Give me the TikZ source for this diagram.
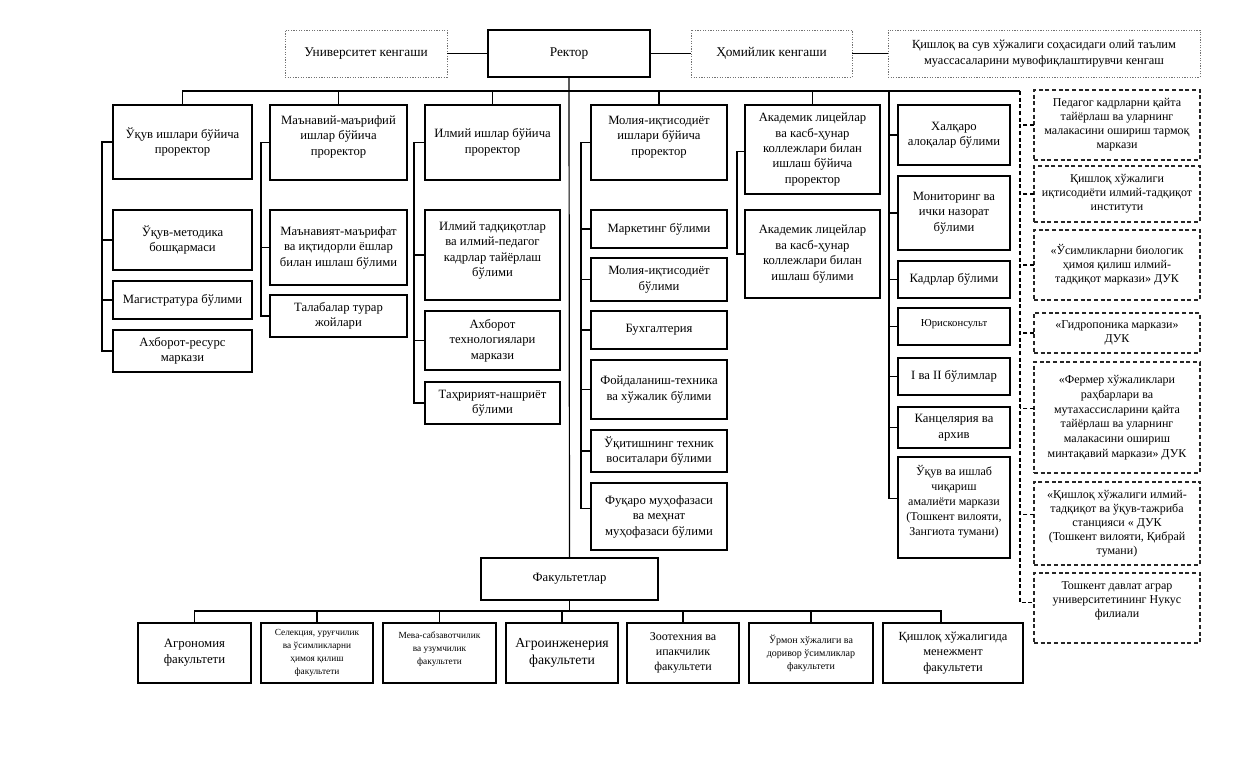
\documentclass[tikz,border=0pt]{standalone}
\usepackage{fontspec}
\setmainfont{Liberation Serif}
\newcommand\fA{\fontsize{9.5}{11.6}\selectfont}
\newcommand\fR{\fontsize{9}{10.5}\selectfont}
\newcommand\fS{\fontsize{7}{9.6}\selectfont}
\newcommand\mybox[7][]{\node[box,minimum width={(#4-#2)*0.75pt},minimum height={(#5-#3)*0.75pt},#1] (#6) at ({(#2+#4)/2},{(#3+#5)/2}) {#7};}
\tikzset{
  box/.style={draw, line width=0.95pt, inner sep=1pt, outer sep=0pt, align=center, font=\fA},
  dotbox/.style={draw=black!55, densely dotted, line width=0.75pt, font=\fontsize{10}{12}\selectfont},
  dbox/.style={draw=black!85, dash pattern=on 3pt off 2pt, line width=0.85pt, font=\fR},
  conn/.style={line width=0.9pt},
  dconn/.style={line width=0.85pt, dash pattern=on 3pt off 2pt}
}
\begin{document}
\begin{tikzpicture}[x=0.75pt,y=-0.75pt]
\useasboundingbox[fill=white] (0,0) rectangle (1242,761);
% top row
\mybox[dotbox]{285}{30}{447}{77}{univ}{Университет кенгаши}
\mybox[font=\fontsize{10}{12}\selectfont]{488}{30}{650}{77}{rector}{Ректор}
\mybox[dotbox]{691}{30}{852}{77}{hom}{Ҳомийлик кенгаши}
\mybox[dotbox,font=\fontsize{9.3}{12}\selectfont]{888}{30}{1200}{77}{qish}{Қишлоқ ва сув хўжалиги соҳасидаги олий таълим\\муассасаларини мувофиқлаштирувчи кенгаш}
% column 1
\mybox{113}{105}{252}{179}{p1}{Ўқув ишлари бўйича\\проректор}
\mybox{113}{210}{252}{270}{c11}{Ўқув-методика\\бошқармаси}
\mybox{113}{281}{252}{319}{c12}{Магистратура бўлими}
\mybox{113}{330}{252}{372}{c13}{Ахборот-ресурс\\маркази}
% column 2
\mybox{270}{105}{407}{180}{p2}{Маънавий-маърифий\\ишлар бўйича\\проректор\\[-1.1pt]}
\mybox{270}{210}{407}{285}{c21}{Маънавият-маърифат\\ва иқтидорли ёшлар\\билан ишлаш бўлими}
\mybox{270}{295}{407}{337}{c22}{Талабалар турар\\жойлари}
% column 3
\mybox{425}{105}{560}{180}{p3}{Илмий ишлар бўйича\\проректор}
\mybox{425}{210}{560}{300}{c31}{Илмий тадқиқотлар\\ва илмий-педагог\\кадрлар тайёрлаш\\бўлими\\[-2.6pt]}
\mybox{425}{311}{560}{370}{c32}{Ахборот\\технологиялари\\маркази}
\mybox{425}{382}{560}{424}{c33}{Таҳририят-нашриёт\\бўлими}
% column 4
\mybox{591}{105}{727}{180}{p4}{Молия-иқтисодиёт\\ишлари бўйича\\проректор\\[-1.1pt]}
\mybox{591}{210}{727}{248}{c41}{Маркетинг бўлими}
\mybox{591}{258}{727}{301}{c42}{Молия-иқтисодиёт\\бўлими}
\mybox{591}{311}{727}{349}{c43}{Бухгалтерия}
\mybox{591}{360}{727}{419}{c44}{Фойдаланиш-техника\\ва хўжалик бўлими}
\mybox{591}{430}{727}{472}{c45}{Ўқитишнинг техник\\воситалари бўлими}
\mybox{591}{483}{727}{550}{c46}{Фуқаро муҳофазаси\\ва меҳнат\\муҳофазаси бўлими}
% column 5
\mybox{745}{105}{880}{194}{p5}{Академик лицейлар\\ва касб-ҳунар\\коллежлари билан\\ишлаш бўйича\\проректор}
\mybox{745}{210}{880}{298}{c51}{Академик лицейлар\\ва касб-ҳунар\\коллежлари билан\\ишлаш бўлими}
% column 6
\mybox{898}{105}{1010}{165}{k1}{Халқаро\\алоқалар бўлими}
\mybox{898}{176}{1010}{250}{k2}{Мониторинг ва\\ички назорат\\бўлими}
\mybox{898}{261}{1010}{298}{k3}{Кадрлар бўлими}
\mybox[font=\fontsize{8}{10}\selectfont]{898}{308}{1010}{345}{k4}{Юрисконсульт\\[-4pt]}
\mybox{898}{358}{1010}{395}{k5}{I ва II бўлимлар}
\mybox{898}{407}{1010}{448}{k6}{Канцелярия ва\\архив}
\mybox[font=\fontsize{9}{11.2}\selectfont]{898}{457}{1010}{558}{k7}{Ўқув ва ишлаб\\чиқариш\\амалиёти маркази\\(Тошкент вилояти,\\Зангиота тумани)\\[-0.7pt]}
% right dashed column
\mybox[dbox]{1034}{90}{1200}{160}{r1}{Педагог кадрларни қайта\\тайёрлаш ва уларнинг\\малакасини ошириш тармоқ\\маркази}
\mybox[dbox]{1034}{166}{1200}{222}{r2}{Қишлоқ хўжалиги\\иқтисодиёти илмий-тадқиқот\\институти}
\mybox[dbox]{1034}{230}{1200}{300}{r3}{«Ўсимликларни биологик\\ҳимоя қилиш илмий-\\тадқиқот маркази» ДУК}
\mybox[dbox]{1034}{313}{1200}{353}{r4}{«Гидропоника маркази»\\ДУК}
\mybox[dbox,font=\fontsize{9}{11}\selectfont]{1034}{362}{1200}{473}{r5}{«Фермер хўжаликлари\\раҳбарлари ва\\мутахассисларини қайта\\тайёрлаш ва уларнинг\\малакасини ошириш\\минтақавий маркази» ДУК}
\mybox[dbox]{1034}{482}{1200}{565}{r6}{«Қишлоқ хўжалиги илмий-\\тадқиқот ва ўқув-тажриба\\станцияси « ДУК\\ (Тошкент вилояти, Қибрай\\тумани)}
\mybox[dbox]{1034}{573}{1200}{643}{r7}{Тошкент давлат аграр\\университетининг Нукус\\филиали\\[1.5pt]}
% faculties
\mybox{481}{558}{658}{600}{fak}{Факультетлар}
\mybox[font=\fontsize{9.6}{12}\selectfont]{138}{623}{251}{683}{f1}{Агрономия\\факультети}
\mybox[font=\fS]{261}{623}{373}{683}{f2}{Селекция, уруғчилик\\ва ўсимликларни\\ҳимоя қилиш\\факультети}
\mybox[font=\fS]{383}{623}{496}{683}{f3}{Мева-сабзавотчилик\\ва узумчилик\\факультети\\[-2.1pt]}
\mybox[font=\fontsize{10.3}{12.5}\selectfont]{506}{623}{618}{683}{f4}{Агроинженерия\\факультети}
\mybox[font=\fontsize{9}{11.2}\selectfont]{627}{623}{739}{683}{f5}{Зоотехния ва\\ипакчилик\\факультети}
\mybox[font=\fontsize{7.5}{9.8}\selectfont]{749}{623}{873}{683}{f6}{Ўрмон хўжалиги ва\\доривор ўсимликлар\\факультети}
\mybox[font=\fontsize{9.3}{11.4}\selectfont]{883}{623}{1023}{683}{f7}{Қишлоқ хўжалигида\\менежмент\\факультети}
% top connectors
\draw[conn] (univ.east) -- (rector.west);
\draw[conn] (rector.east) -- (hom.west);
\draw[conn] (hom.east) -- (qish.west);
\coordinate (busL) at (182,91);
\coordinate (busR) at (1020,91);
\coordinate (s6top) at (889,91);
\draw[conn] (busL) -- (busR);
\draw[conn] (rector.south) -- (fak.north);
\foreach \p in {p1,p2,p3,p4,p5} {\draw[conn] (\p.north) -- (\p.north |- busL);}
% column spines
\draw[conn] (p1.west) -- ++(-11,0) coordinate (s1) |- (c13.west);
\foreach \c in {c11,c12} {\draw[conn] (\c.west) -- (\c.west -| s1);}
\draw[conn] (p2.west) -- ++(-9,0) coordinate (s2) |- (c22.west);
\draw[conn] (c21.west) -- (c21.west -| s2);
\draw[conn] (p3.west) -- ++(-11,0) coordinate (s3) |- (c33.west);
\foreach \c in {c31,c32} {\draw[conn] (\c.west) -- (\c.west -| s3);}
\draw[conn] (p4.west) -- ++(-10,0) coordinate (s4) |- ([yshift=6pt]c46.west);
\foreach \c in {c41,c42,c43,c44,c45} {\draw[conn] (\c.west) -- (\c.west -| s4);}
\draw[conn] ([yshift=-1.5pt]p5.west) -- ++(-8,0) coordinate (s5) |- (c51.west);
\draw[conn] (s6top) |- ([yshift=7pt]k7.west);
\foreach \c in {k1,k2,k3,k4,k5,k6} {\draw[conn] (\c.west) -- (\c.west -| s6top);}
% right dashed spine
\draw[dconn] (busR) |- ([yshift=4pt]r7.west);
\draw[dconn] (r1.west) -- (r1.west -| busR);
\draw[dconn] (r2.west) -- (r2.west -| busR);
\draw[dconn] (r3.west) -- (r3.west -| busR);
\draw[dconn] (r4.west) -- (r4.west -| busR);
\draw[dconn] ([yshift=7pt]r5.west) -- ([yshift=7pt]r5.west -| busR);
\draw[dconn] ([yshift=7pt]r6.west) -- ([yshift=7pt]r6.west -| busR);
% faculty bus
\coordinate (fbR) at (941,611);
\draw[conn] (f1.north) |- (fbR) -- (fbR |- f7.north);
\draw[conn] (fak.south) -- (fak.south |- fbR);
\foreach \f in {f2,f3,f4,f5,f6} {\draw[conn] (\f.north) -- (\f.north |- fbR);}
\end{tikzpicture}
\end{document}
